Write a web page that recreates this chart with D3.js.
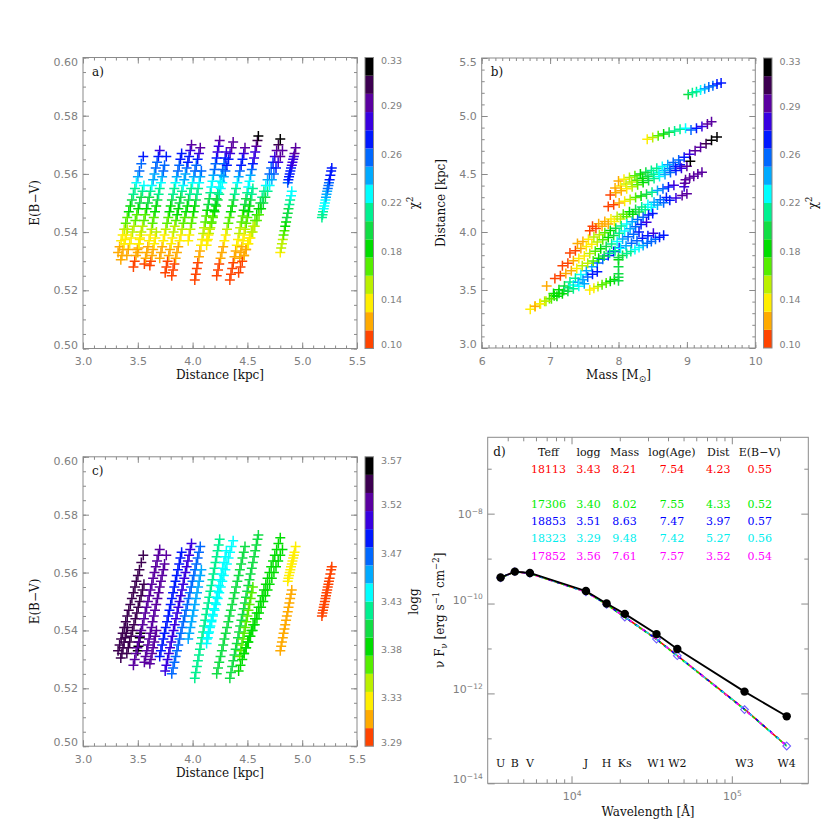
<!DOCTYPE html>
<html>
<head>
<meta charset="utf-8">
<script src="https://cdn.jsdelivr.net/npm/d3@7"></script>
<style>
  body { margin: 0; background: #fff; }
  text { font-family: 'DejaVu Serif', serif; fill: #111; }
  .axis text { font-family: 'DejaVu Sans', sans-serif; font-size: 11px; fill: #808080; }
  .axis line { stroke: #8a8a8a; }
  .cbar-label { font-family: 'DejaVu Sans', sans-serif; font-size: 9.5px; fill: #808080; }
  .title { font-size: 12px; }
  .tab { font-size: 11px; }
</style>
</head>
<body>
<svg width="830" height="830"></svg>
<script>
'use strict';

///////////////////////////// data /////////////////////////////
// colour table of the three colour bars, bottom -> top
var barColors = ['#ff4400', '#ffaa00', '#ffee00', '#bbf000', '#55ee00', '#00dd00', '#11dd44', '#00f090',
                 '#00ffff', '#00aaff', '#0068ff', '#0018ff', '#3800e0', '#5a00a0', '#3c0050', '#000000'];
var chiDomain = [0.10, 0.33];
var chiTickLabels = ['0.10', '0.14', '0.18', '0.22', '0.26', '0.29', '0.33'];
var loggDomain = [3.29, 3.57];
var loggTickLabels = ['3.29', '3.33', '3.38', '3.43', '3.47', '3.52', '3.57'];

var distTicks = [3.0, 3.5, 4.0, 4.5, 5.0, 5.5];
var ebvTicks = [0.50, 0.52, 0.54, 0.56, 0.58, 0.60];
var massTicks = [6, 7, 8, 9, 10];

// panels a) and c): one entry per model track, points are [distance kpc, E(B-V), chi2]
var ebvTracks = [
  {logg: 3.55, pts: [[3.320,0.533,0.122],[3.334,0.535,0.128],[3.348,0.537,0.135],[3.362,0.539,0.142],[3.376,0.541,0.150],[3.390,0.543,0.158],[3.404,0.545,0.167],[3.418,0.547,0.176],[3.432,0.549,0.185],[3.446,0.551,0.195],[3.460,0.553,0.205],[3.474,0.555,0.215],[3.487,0.557,0.225],[3.501,0.559,0.235],[3.515,0.561,0.245],[3.532,0.5635,0.255],[3.550,0.566,0.265]]},
  {logg: 3.54, pts: [[3.400,0.532,0.119],[3.413,0.534,0.125],[3.426,0.536,0.131],[3.439,0.538,0.138],[3.452,0.540,0.146],[3.465,0.542,0.154],[3.478,0.544,0.163],[3.491,0.546,0.171],[3.504,0.548,0.180],[3.517,0.550,0.190],[3.530,0.552,0.200],[3.543,0.554,0.210],[3.556,0.556,0.220]]},
  {logg: 3.55, pts: [[3.345,0.5305,0.116],[3.355,0.532,0.120],[3.365,0.534,0.125],[3.375,0.536,0.131],[3.385,0.5375,0.137],[3.395,0.539,0.143],[3.405,0.541,0.150]]},
  {logg: 3.56, pts: [[3.500,0.533,0.122],[3.506,0.5345,0.126],[3.512,0.536,0.131],[3.518,0.5375,0.136],[3.524,0.539,0.142]]},
  {logg: 3.53, pts: [[3.460,0.528,0.109],[3.472,0.530,0.114],[3.484,0.532,0.119],[3.496,0.534,0.125],[3.508,0.536,0.131],[3.520,0.538,0.138],[3.532,0.540,0.146],[3.544,0.542,0.154],[3.556,0.544,0.163],[3.568,0.546,0.171],[3.580,0.548,0.180],[3.592,0.550,0.190],[3.604,0.552,0.200],[3.616,0.554,0.210],[3.628,0.556,0.220],[3.640,0.558,0.230],[3.652,0.560,0.240],[3.664,0.562,0.249],[3.676,0.564,0.258],[3.688,0.566,0.268],[3.700,0.568,0.277]]},
  {logg: 3.52, pts: [[3.560,0.529,0.112],[3.571,0.531,0.117],[3.582,0.533,0.122],[3.592,0.535,0.128],[3.603,0.537,0.135],[3.614,0.539,0.142],[3.625,0.541,0.150],[3.635,0.543,0.158],[3.646,0.545,0.167],[3.657,0.547,0.176],[3.668,0.549,0.185],[3.679,0.551,0.195],[3.690,0.553,0.205],[3.700,0.555,0.215],[3.711,0.557,0.225],[3.722,0.559,0.235],[3.733,0.561,0.245],[3.744,0.563,0.254],[3.760,0.566,0.267]]},
  {logg: 3.52, pts: [[3.610,0.5285,0.110],[3.620,0.530,0.114],[3.630,0.532,0.119],[3.640,0.534,0.125],[3.650,0.536,0.131],[3.660,0.538,0.138],[3.670,0.540,0.146]]},
  {logg: 3.49, pts: [[3.700,0.531,0.117],[3.711,0.533,0.122],[3.722,0.535,0.128],[3.733,0.537,0.135],[3.744,0.539,0.142],[3.755,0.541,0.150],[3.767,0.543,0.158],[3.778,0.545,0.167],[3.789,0.547,0.176],[3.800,0.549,0.185],[3.811,0.551,0.195],[3.822,0.553,0.205],[3.833,0.555,0.215],[3.844,0.557,0.225],[3.855,0.559,0.235],[3.866,0.561,0.245],[3.878,0.563,0.254],[3.889,0.565,0.263],[3.900,0.567,0.272]]},
  {logg: 3.51, pts: [[3.750,0.526,0.105],[3.761,0.528,0.109],[3.772,0.530,0.114],[3.783,0.532,0.119],[3.794,0.534,0.125],[3.805,0.536,0.131],[3.816,0.538,0.138],[3.826,0.540,0.146],[3.837,0.542,0.154],[3.848,0.544,0.163],[3.859,0.546,0.172],[3.870,0.548,0.181],[3.881,0.550,0.190],[3.892,0.552,0.200],[3.903,0.554,0.210],[3.914,0.556,0.220],[3.924,0.558,0.230],[3.935,0.560,0.240],[3.946,0.562,0.250],[3.957,0.564,0.260],[3.968,0.566,0.270],[3.979,0.568,0.280],[3.990,0.570,0.290]]},
  {logg: 3.47, pts: [[3.810,0.525,0.103],[3.822,0.527,0.107],[3.834,0.529,0.112],[3.845,0.531,0.117],[3.857,0.533,0.122],[3.869,0.535,0.128],[3.881,0.537,0.135],[3.893,0.539,0.142],[3.904,0.541,0.150],[3.916,0.543,0.158],[3.928,0.545,0.167],[3.940,0.547,0.176],[3.952,0.549,0.185],[3.963,0.551,0.195],[3.975,0.553,0.205],[3.987,0.555,0.215],[3.999,0.557,0.225],[4.011,0.559,0.235],[4.022,0.561,0.245],[4.034,0.563,0.255],[4.046,0.565,0.265],[4.058,0.567,0.276],[4.070,0.569,0.288]]},
  {logg: 3.45, pts: [[3.960,0.537,0.135],[3.970,0.539,0.142],[3.980,0.541,0.150],[3.990,0.543,0.158],[4.000,0.545,0.167],[4.010,0.547,0.176],[4.020,0.549,0.185],[4.030,0.551,0.195],[4.040,0.553,0.205],[4.050,0.555,0.215],[4.060,0.557,0.225],[4.070,0.559,0.235],[4.080,0.561,0.245]]},
  {logg: 3.42, pts: [[4.020,0.5235,0.101],[4.029,0.5255,0.104],[4.039,0.5275,0.108],[4.048,0.5295,0.113],[4.058,0.5315,0.118],[4.067,0.5335,0.124],[4.077,0.5355,0.130],[4.086,0.5375,0.137],[4.096,0.5395,0.144],[4.105,0.5415,0.152],[4.115,0.5435,0.160],[4.124,0.5455,0.169],[4.133,0.5475,0.178],[4.143,0.5495,0.188],[4.152,0.5515,0.198],[4.162,0.5535,0.208],[4.171,0.5555,0.218],[4.181,0.5575,0.228],[4.190,0.5595,0.238],[4.200,0.5615,0.247],[4.209,0.5635,0.256],[4.219,0.5655,0.265],[4.228,0.5675,0.275],[4.238,0.5695,0.285],[4.247,0.5715,0.295]]},
  {logg: 3.435, pts: [[4.128,0.5355,0.130],[4.139,0.5375,0.137],[4.150,0.5395,0.144],[4.162,0.5415,0.152],[4.173,0.5435,0.160],[4.184,0.5455,0.169],[4.196,0.5475,0.178],[4.207,0.5495,0.188],[4.218,0.5515,0.198],[4.229,0.5535,0.208],[4.240,0.5555,0.218],[4.252,0.5575,0.228],[4.263,0.5595,0.238],[4.274,0.5615,0.248],[4.286,0.5635,0.258],[4.297,0.5655,0.268],[4.308,0.5675,0.278]]},
  {logg: 3.44, pts: [[4.130,0.537,0.135],[4.144,0.539,0.142],[4.158,0.541,0.150],[4.172,0.543,0.158],[4.186,0.545,0.167],[4.201,0.547,0.176],[4.215,0.549,0.185],[4.229,0.551,0.195],[4.243,0.553,0.205],[4.257,0.555,0.216],[4.271,0.557,0.228],[4.285,0.559,0.239],[4.299,0.561,0.250],[4.313,0.563,0.260],[4.328,0.565,0.270],[4.342,0.567,0.280],[4.356,0.569,0.290],[4.370,0.571,0.298]]},
  {logg: 3.41, pts: [[4.220,0.525,0.103],[4.232,0.527,0.107],[4.243,0.529,0.112],[4.255,0.531,0.117],[4.267,0.533,0.122],[4.279,0.535,0.128],[4.290,0.537,0.135],[4.302,0.539,0.142],[4.314,0.541,0.150],[4.326,0.543,0.158],[4.337,0.545,0.167],[4.349,0.547,0.176],[4.361,0.549,0.185],[4.373,0.551,0.195],[4.384,0.553,0.205],[4.396,0.555,0.215],[4.408,0.557,0.225],[4.420,0.559,0.236],[4.431,0.561,0.248],[4.443,0.563,0.260],[4.455,0.565,0.272],[4.467,0.567,0.284],[4.478,0.569,0.295]]},
  {logg: 3.40, pts: [[4.340,0.5235,0.101],[4.350,0.5255,0.104],[4.361,0.5275,0.108],[4.371,0.5295,0.113],[4.382,0.5315,0.118],[4.393,0.5335,0.124],[4.403,0.5355,0.130],[4.414,0.5375,0.137],[4.424,0.5395,0.144],[4.434,0.5415,0.152],[4.445,0.5435,0.160],[4.456,0.5455,0.169],[4.466,0.5475,0.178],[4.477,0.5495,0.188],[4.487,0.5515,0.198],[4.498,0.5535,0.208],[4.508,0.5555,0.218],[4.519,0.5575,0.229],[4.529,0.5595,0.240],[4.540,0.5615,0.251],[4.550,0.5635,0.262],[4.561,0.5655,0.273],[4.571,0.5675,0.285],[4.582,0.5695,0.295],[4.592,0.5715,0.305],[4.600,0.573,0.318]]},
  {logg: 3.37, pts: [[4.430,0.531,0.117],[4.440,0.533,0.122],[4.450,0.535,0.128],[4.460,0.537,0.135],[4.470,0.539,0.142],[4.480,0.541,0.150],[4.490,0.543,0.158],[4.500,0.545,0.167],[4.510,0.547,0.176],[4.520,0.549,0.185],[4.530,0.551,0.195],[4.540,0.553,0.205],[4.550,0.555,0.215]]},
  {logg: 3.38, pts: [[4.420,0.526,0.105],[4.437,0.528,0.109],[4.453,0.530,0.114],[4.470,0.532,0.119],[4.486,0.534,0.125],[4.503,0.536,0.131],[4.519,0.538,0.138],[4.536,0.540,0.146],[4.552,0.542,0.154],[4.569,0.544,0.163],[4.585,0.546,0.172],[4.602,0.548,0.181],[4.618,0.550,0.190],[4.635,0.552,0.201],[4.651,0.554,0.212],[4.668,0.556,0.223],[4.684,0.558,0.235],[4.701,0.560,0.246],[4.717,0.562,0.258],[4.734,0.564,0.270],[4.750,0.566,0.282],[4.767,0.568,0.293],[4.783,0.570,0.305],[4.800,0.572,0.320]]},
  {logg: 3.39, pts: [[4.470,0.532,0.119],[4.489,0.534,0.125],[4.509,0.536,0.131],[4.528,0.538,0.138],[4.548,0.540,0.146],[4.567,0.542,0.154],[4.587,0.544,0.163],[4.606,0.546,0.171],[4.625,0.548,0.180],[4.645,0.550,0.190],[4.664,0.552,0.200],[4.684,0.554,0.211],[4.703,0.556,0.222],[4.723,0.558,0.235],[4.742,0.560,0.248],[4.761,0.562,0.261],[4.781,0.564,0.275],[4.800,0.566,0.288],[4.820,0.568,0.300]]},
  {logg: 3.33, pts: [[4.868,0.557,0.258],[4.874,0.558,0.260],[4.880,0.559,0.262],[4.886,0.560,0.265],[4.892,0.561,0.268],[4.898,0.562,0.272],[4.905,0.563,0.275],[4.911,0.564,0.278],[4.918,0.565,0.282],[4.924,0.566,0.286],[4.930,0.567,0.290],[4.940,0.569,0.296]]},
  {logg: 3.31, pts: [[4.800,0.533,0.138],[4.808,0.5345,0.144],[4.815,0.536,0.150],[4.823,0.5375,0.157],[4.830,0.539,0.163],[4.838,0.5405,0.169],[4.845,0.542,0.175],[4.853,0.5435,0.182],[4.860,0.545,0.188],[4.868,0.5465,0.194],[4.875,0.548,0.200],[4.883,0.5495,0.207],[4.890,0.551,0.213],[4.898,0.5525,0.219],[4.905,0.554,0.225]]},
  {logg: 3.29, pts: [[5.180,0.545,0.205],[5.185,0.546,0.208],[5.190,0.547,0.212],[5.196,0.548,0.216],[5.201,0.549,0.220],[5.207,0.550,0.223],[5.212,0.551,0.226],[5.217,0.552,0.230],[5.222,0.553,0.235],[5.228,0.554,0.240],[5.233,0.555,0.245],[5.239,0.556,0.250],[5.244,0.557,0.255],[5.250,0.558,0.260],[5.257,0.5595,0.265],[5.264,0.561,0.269],[5.270,0.562,0.272]]}
];

// panel b): model tracks, points are [mass Msun, distance kpc, chi2]
var massTracks = [
  [[9.02,5.185,0.195],[9.08,5.200,0.205],[9.14,5.210,0.215],[9.20,5.225,0.225],[9.26,5.235,0.235],[9.32,5.250,0.245],[9.38,5.260,0.255],[9.44,5.275,0.265],[9.50,5.285,0.272]],
  [[8.42,4.800,0.135],[8.50,4.815,0.145],[8.58,4.830,0.160],[8.66,4.845,0.175],[8.74,4.860,0.190],[8.82,4.870,0.205],[8.90,4.885,0.215],[8.98,4.895,0.225],[9.06,4.880,0.250],[9.14,4.895,0.262],[9.22,4.910,0.275],[9.30,4.930,0.290],[9.36,4.950,0.300]],
  [[7.95,4.380,0.125],[8.03,4.397,0.135],[8.11,4.414,0.145],[8.19,4.430,0.157],[8.27,4.447,0.170],[8.35,4.464,0.183],[8.43,4.481,0.196],[8.51,4.498,0.210],[8.59,4.514,0.224],[8.67,4.531,0.238],[8.75,4.548,0.250],[8.83,4.565,0.260],[8.90,4.580,0.268]],
  [[8.00,4.440,0.115],[8.08,4.455,0.130],[8.16,4.470,0.145],[8.24,4.485,0.160],[8.32,4.500,0.175],[8.40,4.515,0.190],[8.48,4.530,0.205],[8.56,4.550,0.215],[8.64,4.565,0.225],[8.72,4.580,0.235],[8.80,4.600,0.245],[8.88,4.620,0.255],[8.96,4.645,0.265],[9.04,4.670,0.280],[9.12,4.700,0.290],[9.20,4.730,0.300],[9.28,4.760,0.310],[9.36,4.790,0.320],[9.44,4.820,0.325]],
  [[7.88,4.320,0.105],[7.96,4.338,0.115],[8.04,4.355,0.125],[8.12,4.373,0.135],[8.20,4.390,0.150],[8.28,4.408,0.165],[8.36,4.426,0.180],[8.44,4.443,0.195],[8.52,4.461,0.210],[8.60,4.478,0.225],[8.68,4.496,0.240],[8.76,4.514,0.255],[8.84,4.531,0.270],[8.92,4.549,0.280],[9.00,4.566,0.290],[9.05,4.610,0.320]],
  [[7.85,4.220,0.100],[7.93,4.235,0.110],[8.01,4.251,0.120],[8.09,4.266,0.130],[8.17,4.281,0.145],[8.25,4.297,0.160],[8.33,4.311,0.175],[8.41,4.326,0.190],[8.49,4.342,0.210],[8.57,4.357,0.230],[8.65,4.372,0.250],[8.73,4.387,0.270],[8.81,4.402,0.285]],
  [[8.96,4.390,0.285],[8.97,4.420,0.290],[8.98,4.450,0.290],[9.04,4.465,0.295],[9.10,4.480,0.295],[9.16,4.500,0.300],[9.22,4.515,0.300]],
  [[7.62,4.050,0.110],[7.71,4.071,0.118],[7.80,4.091,0.128],[7.89,4.112,0.138],[7.98,4.133,0.150],[8.07,4.154,0.162],[8.16,4.174,0.175],[8.25,4.195,0.188],[8.34,4.216,0.202],[8.43,4.236,0.216],[8.52,4.257,0.232],[8.61,4.278,0.248],[8.70,4.298,0.262]],
  [[7.58,4.010,0.100],[7.67,4.030,0.108],[7.76,4.050,0.118],[7.85,4.070,0.128],[7.94,4.091,0.140],[8.03,4.111,0.152],[8.12,4.132,0.165],[8.21,4.152,0.178],[8.30,4.172,0.190],[8.39,4.192,0.205],[8.48,4.213,0.220],[8.57,4.233,0.235],[8.66,4.253,0.250],[8.75,4.273,0.265],[8.84,4.294,0.278],[8.93,4.314,0.290],[9.00,4.330,0.295]],
  [[7.40,3.900,0.120],[7.48,3.919,0.128],[7.56,3.938,0.137],[7.64,3.957,0.146],[7.72,3.976,0.156],[7.80,3.994,0.167],[7.88,4.013,0.178],[7.96,4.032,0.190],[8.04,4.051,0.203],[8.12,4.070,0.216],[8.20,4.089,0.230],[8.28,4.108,0.244],[8.36,4.127,0.256],[8.44,4.146,0.266],[8.50,4.160,0.272]],
  [[7.29,3.820,0.100],[7.37,3.839,0.110],[7.45,3.858,0.120],[7.53,3.876,0.130],[7.61,3.895,0.140],[7.69,3.914,0.152],[7.77,3.933,0.165],[7.85,3.952,0.178],[7.93,3.970,0.192],[8.01,3.989,0.207],[8.09,4.008,0.222],[8.17,4.027,0.238],[8.25,4.046,0.252],[8.33,4.064,0.267],[8.41,4.083,0.280]],
  [[7.18,3.710,0.105],[7.26,3.731,0.112],[7.34,3.752,0.120],[7.42,3.772,0.130],[7.50,3.793,0.140],[7.58,3.814,0.152],[7.66,3.835,0.165],[7.74,3.856,0.178],[7.82,3.876,0.192],[7.90,3.897,0.206],[7.98,3.918,0.220],[8.06,3.939,0.234],[8.14,3.960,0.246],[8.22,3.980,0.256],[8.30,4.001,0.264]],
  [[7.05,3.470,0.180],[7.13,3.503,0.186],[7.21,3.535,0.194],[7.29,3.568,0.202],[7.37,3.601,0.210],[7.45,3.634,0.220],[7.53,3.667,0.230],[7.61,3.700,0.240],[7.69,3.732,0.248],[7.77,3.765,0.254],[7.85,3.798,0.260],[7.93,3.831,0.265],[8.01,3.864,0.270]],
  [[7.07,3.600,0.100],[7.15,3.622,0.108],[7.23,3.643,0.116],[7.31,3.665,0.125],[7.39,3.686,0.134],[7.47,3.708,0.144],[7.55,3.730,0.155],[7.63,3.751,0.166],[7.71,3.773,0.178],[7.79,3.794,0.190],[7.87,3.816,0.202],[7.95,3.838,0.214],[8.03,3.859,0.226],[8.11,3.881,0.238],[8.19,3.902,0.248],[8.27,3.924,0.256],[8.35,3.946,0.264],[8.43,3.967,0.270],[8.51,3.989,0.276]],
  [[6.71,3.335,0.135],[6.78,3.358,0.140],[6.85,3.381,0.148],[6.92,3.404,0.156],[6.99,3.427,0.165],[7.06,3.450,0.175],[7.13,3.473,0.185],[7.20,3.496,0.196],[7.27,3.520,0.207],[7.34,3.543,0.218],[7.41,3.566,0.230],[7.48,3.589,0.240],[7.55,3.612,0.250],[7.62,3.635,0.260],[7.69,3.658,0.268]],
  [[6.78,3.360,0.125],[6.86,3.382,0.135],[6.94,3.403,0.148],[7.02,3.425,0.160],[7.10,3.446,0.172],[7.18,3.468,0.185],[7.26,3.490,0.198],[7.34,3.511,0.210],[7.42,3.533,0.222],[7.50,3.554,0.235]],
  [[7.58,3.500,0.135],[7.64,3.515,0.142],[7.70,3.530,0.150],[7.76,3.545,0.158],[7.82,3.560,0.166],[7.88,3.575,0.174],[7.94,3.590,0.182],[8.00,3.610,0.190]],
  [[8.00,3.580,0.192],[8.00,3.640,0.190],[8.00,3.700,0.188],[8.00,3.760,0.186]],
  [[8.00,3.780,0.190],[8.06,3.797,0.197],[8.12,3.815,0.205],[8.18,3.832,0.212],[8.24,3.850,0.220],[8.30,3.867,0.228],[8.36,3.884,0.236],[8.42,3.902,0.244],[8.48,3.919,0.252],[8.54,3.937,0.258],[8.60,3.954,0.264],[8.66,3.971,0.270]],
  [[6.95,3.535,0.115]]
];

// panel d): photometry and best-fitting models
var bandNames = ['U', 'B', 'V', 'J', 'H', 'Ks', 'W1', 'W2', 'W3', 'W4'];
var bandWave = [3610, 4430, 5500, 12300, 16550, 21500, 33900, 45700, 120000, 220000]; // Angstrom
var obsLogFlux = [-9.42, -9.29, -9.32, -9.72, -10.00, -10.23, -10.68, -11.01, -11.96, -12.51];
var modelLogFlux = [
  [-9.43, -9.29, -9.33, -9.74, -10.02, -10.30, -10.79, -11.16, -12.35, -13.17],
  [-9.43, -9.29, -9.33, -9.74, -10.02, -10.31, -10.80, -11.17, -12.36, -13.17],
  [-9.42, -9.29, -9.33, -9.74, -10.02, -10.30, -10.79, -11.16, -12.35, -13.16],
  [-9.43, -9.30, -9.33, -9.74, -10.02, -10.30, -10.79, -11.16, -12.35, -13.17],
  [-9.43, -9.29, -9.33, -9.74, -10.02, -10.30, -10.79, -11.16, -12.36, -13.17]
];
var modelColors = ['#ff0000', '#00ee00', '#0000ff', '#00eeee', '#ff00ff'];
var fitTeff = [18113, 17306, 18853, 18323, 17852];
var fitLogg = [3.43, 3.40, 3.51, 3.29, 3.56];
var fitMass = [8.21, 8.02, 8.63, 9.48, 7.61];
var fitLogAge = [7.54, 7.55, 7.47, 7.42, 7.57];
var fitDist = [4.23, 4.33, 3.97, 5.27, 3.52];
var fitEbv = [0.55, 0.52, 0.57, 0.56, 0.54];
var tableHeads = ['Teff', 'logg', 'Mass', 'log(Age)', 'Dist', 'E(B\u2212V)'];

///////////////////////////// helpers /////////////////////////////
var svg = d3.select('svg');
var chiColor = d3.scaleQuantize().domain(chiDomain).range(barColors);
var loggColor = d3.scaleQuantize().domain(loggDomain).range(barColors);

function near(a, b) { return Math.abs(a - b) < 1e-9 * Math.max(1, Math.abs(b)); }

function tickAxis(g, axis, tr, vals, size, fmt, pad) {
    var a = g.append('g').attr('class', 'axis').attr('transform', tr)
        .call(axis.tickValues(vals).tickSizeInner(-size).tickSizeOuter(0).tickPadding(pad || 0)
            .tickFormat(fmt || function() { return ''; }));
    a.select('.domain').remove();
    a.attr('font-size', null).attr('font-family', null);
    return a;
}

// IDL style box: ticks inward on all four sides, labels bottom + left
function boxFrame(g, x, y, xMaj, xMin, yMaj, yMin, xFmt, yFmt, big, small) {
    var w = x.range()[1], h = y.range()[0];
    var bottom = 'translate(0,' + h + ')', right = 'translate(' + w + ',0)';
    var xl = tickAxis(g, d3.axisBottom(x), bottom, xMaj, big, xFmt, 9);
    tickAxis(g, d3.axisBottom(x), bottom, xMin, small);
    tickAxis(g, d3.axisTop(x), null, xMaj, big);
    tickAxis(g, d3.axisTop(x), null, xMin, small);
    var yl = tickAxis(g, d3.axisLeft(y), null, yMaj, big, yFmt, 5);
    tickAxis(g, d3.axisLeft(y), null, yMin, small);
    tickAxis(g, d3.axisRight(y), right, yMaj, big);
    tickAxis(g, d3.axisRight(y), right, yMin, small);
    g.append('rect').attr('width', w).attr('height', h)
        .attr('fill', 'none').attr('stroke', '#8a8a8a').attr('stroke-width', 1);
    // end labels sit a little inside the box
    var dom = y.domain();
    yl.selectAll('.tick text').attr('transform', function(d) {
        if (near(d, dom[0])) { return 'translate(0,-4)'; }
        if (near(d, dom[1])) { return 'translate(0,4)'; }
        return null;
    });
    return {x: xl, y: yl};
}

function plusMarks(g, data, x, y, color) {
    g.append('g').selectAll('path').data(data).enter().append('path')
        .attr('d', function(d) {
            var px = x(d[0]), py = y(d[1]);
            return 'M' + (px - 5) + ',' + py + 'h10M' + px + ',' + (py - 5) + 'v10';
        })
        .attr('fill', 'none')
        .attr('stroke-width', 1.5)
        .attr('stroke', color);
}

function colorBar(x0, y0, h, labels, title) {
    var g = svg.append('g').attr('transform', 'translate(' + x0 + ',' + y0 + ')');
    var yb = d3.scaleLinear().domain([0, barColors.length]).range([h, 0]);
    g.selectAll('rect.seg').data(barColors).enter().append('rect')
        .attr('class', 'seg')
        .attr('width', 8.5)
        .attr('y', function(d, i) { return yb(i + 1); })
        .attr('height', function(d, i) { return yb(i) - yb(i + 1); })
        .attr('fill', function(d) { return d; });
    g.append('rect').attr('width', 8.5).attr('height', h)
        .attr('fill', 'none').attr('stroke', '#8a8a8a');
    var yt = d3.scalePoint().domain(labels).range([h, 0]);
    g.selectAll('text.cbar-label').data(labels).enter().append('text')
        .attr('class', 'cbar-label')
        .attr('x', 16)
        .attr('y', function(d, i) {
            var nudge = i === 0 ? -3.5 : (i === labels.length - 1 ? 3.5 : 0);
            return yt(d) + nudge;
        })
        .attr('dy', '0.35em')
        .text(function(d) { return d; });
    var t = g.append('text').attr('class', 'title')
        .attr('text-anchor', 'middle')
        .attr('transform', 'translate(53,' + (h / 2) + ') rotate(-90)');
    title(t);
}

function chiTitle(t) {
    t.append('tspan').text('\u03c7');
    t.append('tspan').attr('dy', -5).attr('font-size', '8.5px').text('2');
}

function rotLabel(x0, y0, txt) {
    svg.append('text').attr('class', 'title').attr('text-anchor', 'middle')
        .attr('transform', 'translate(' + x0 + ',' + y0 + ') rotate(-90)')
        .text(txt);
}

function panelTag(g, txt, dx, dy) {
    g.append('text').attr('x', dx).attr('y', dy).attr('font-size', '12px').text(txt);
}

var fmt1 = d3.format('.1f'), fmt2 = d3.format('.2f');
var distMinor = d3.range(3.0, 5.501, 0.1);
var ebvMinor = d3.range(0.50, 0.6001, 0.005);

function ebvPanel(left, top, h, colorOf, tag) {
    var g = svg.append('g').attr('transform', 'translate(' + left + ',' + top + ')');
    var x = d3.scaleLinear().domain([3.0, 5.5]).range([0, 274]);
    var y = d3.scaleLinear().domain([0.50, 0.60]).range([h, 0]);
    ebvTracks.forEach(function(tr) {
        plusMarks(g, tr.pts, x, y, function(d) { return colorOf(tr, d); });
    });
    boxFrame(g, x, y, distTicks, distMinor, ebvTicks, ebvMinor, fmt1, fmt2, 6, 3);
    panelTag(g, tag, 9, 18);
    g.append('text').attr('class', 'title').attr('text-anchor', 'middle')
        .attr('x', 137).attr('y', h + 30.5).text('Distance [kpc]');
    rotLabel(left - 44, top + h / 2, 'E(B\u2212V)');
    return g;
}

///////////////////////////// panel a /////////////////////////////
ebvPanel(83, 57.5, 291, function(tr, d) { return chiColor(d[2]); }, 'a)');
colorBar(365, 57.5, 291, chiTickLabels, chiTitle);

///////////////////////////// panel c /////////////////////////////
ebvPanel(83, 456.8, 289.4, function(tr) { return loggColor(tr.logg); }, 'c)');
colorBar(365, 456.8, 289.4, loggTickLabels, function(t) { t.text('logg'); });

///////////////////////////// panel b /////////////////////////////
(function() {
    var g = svg.append('g').attr('transform', 'translate(481.7,58)');
    var x = d3.scaleLinear().domain([6, 10]).range([0, 273.6]);
    var y = d3.scaleLinear().domain([3.0, 5.5]).range([290, 0]);
    massTracks.forEach(function(tr) {
        plusMarks(g, tr, x, y, function(d) { return chiColor(d[2]); });
    });
    boxFrame(g, x, y, massTicks, d3.range(6, 10.001, 0.1), distTicks, distMinor,
        d3.format('d'), fmt1, 6, 3);
    panelTag(g, 'b)', 9, 18);
    var xl = g.append('text').attr('class', 'title').attr('text-anchor', 'middle')
        .attr('x', 136.8).attr('y', 321);
    xl.append('tspan').text('Mass [M');
    xl.append('tspan').attr('dy', 3).attr('font-size', '9px')
        .attr('font-family', 'DejaVu Sans').text('\u2299');
    xl.append('tspan').attr('dy', -3).text(']');
    rotLabel(445, 203, 'Distance [kpc]');
    colorBar(763.5, 58, 290, chiTickLabels, chiTitle);
})();

///////////////////////////// panel d /////////////////////////////
(function() {
    var left = 487.7, top = 437.3, w = 320.6, h = 346;
    var g = svg.append('g').attr('transform', 'translate(' + left + ',' + top + ')');
    var x = d3.scaleLog().domain([3000, 300000]).range([0, w]);
    var y = d3.scaleLog().domain([1e-14, 5e-7]).range([h, 0]);

    var xMin = [4000, 5000, 6000, 7000, 8000, 9000, 20000, 30000, 40000, 50000, 60000,
                70000, 80000, 90000, 200000];
    var none = function() { return ''; };
    var ax = boxFrame(g, x, y, [1e4, 1e5], xMin, [1e-14, 1e-12, 1e-10, 1e-8],
        [1e-13, 1e-11, 1e-9, 1e-7], none, none, 7, 4);
    // power-of-ten labels
    function powLabel(sel) {
        sel.each(function(d) {
            var t = d3.select(this).select('text');
            var e = Math.round(Math.log10(d));
            t.text('10');
            t.append('tspan').attr('dy', '-0.55em').attr('font-size', '7.5px')
                .text(e < 0 ? '\u2212' + (-e) : String(e));
        });
    }
    ax.y.selectAll('.tick').call(powLabel);
    ax.x.selectAll('.tick').call(powLabel);

    var line = d3.line()
        .x(function(d, i) { return x(bandWave[i]); })
        .y(function(d) { return y(Math.pow(10, d)); });

    modelLogFlux.forEach(function(m, k) {
        g.append('path').attr('d', line(m)).attr('fill', 'none')
            .attr('stroke', modelColors[k]).attr('stroke-width', 1.6)
            .attr('stroke-dasharray', k === 0 ? null : '3,' + (3 * k))
            .attr('stroke-dashoffset', k * 2);
    });
    g.append('g').selectAll('path').data(modelLogFlux[4]).enter().append('path')
        .attr('d', d3.symbol().type(d3.symbolDiamond2).size(38))
        .attr('transform', function(d, i) {
            return 'translate(' + x(bandWave[i]) + ',' + y(Math.pow(10, d)) + ')';
        })
        .attr('fill', 'none').attr('stroke', '#6f5cff').attr('stroke-width', 1.1);

    g.append('path').attr('d', line(obsLogFlux)).attr('fill', 'none')
        .attr('stroke', '#000').attr('stroke-width', 1.8);
    g.append('g').selectAll('circle').data(obsLogFlux).enter().append('circle')
        .attr('cx', function(d, i) { return x(bandWave[i]); })
        .attr('cy', function(d) { return y(Math.pow(10, d)); })
        .attr('r', 4.2).attr('fill', '#000');

    g.append('g').selectAll('text').data(bandNames).enter().append('text')
        .attr('class', 'tab').attr('text-anchor', 'middle')
        .attr('x', function(d, i) { return x(bandWave[i]); })
        .attr('y', 329.5)
        .text(function(d) { return d; });

    panelTag(g, 'd)', 5.5, 18.5);

    // table of fitted parameters
    var colX = [548.5, 588.5, 624.5, 672, 718.3, 759.7];
    var rowY = [469, 503.6, 520.9, 538.2, 555.5];
    tableHeads.forEach(function(hd, j) {
        svg.append('text').attr('class', 'tab').attr('text-anchor', 'middle')
            .attr('x', colX[j]).attr('y', 455.8).text(hd);
    });
    var cols = [fitTeff.map(String), fitLogg.map(fmt2), fitMass.map(fmt2),
                fitLogAge.map(fmt2), fitDist.map(fmt2), fitEbv.map(fmt2)];
    cols.forEach(function(vals, j) {
        vals.forEach(function(v, k) {
            svg.append('text').attr('class', 'tab').attr('text-anchor', 'middle')
                .attr('x', colX[j]).attr('y', rowY[k] + 4)
                .attr('style', 'fill:' + modelColors[k])
                .text(v);
        });
    });

    g.append('text').attr('class', 'title').attr('text-anchor', 'middle')
        .attr('x', w / 2).attr('y', h + 33).text('Wavelength [\u00c5]');
    var t = svg.append('text').attr('class', 'title').attr('text-anchor', 'middle')
        .attr('transform', 'translate(444,' + (top + h / 2) + ') rotate(-90)');
    t.append('tspan').text('\u03bd F');
    t.append('tspan').attr('dy', 3).attr('font-size', '8.5px').text('\u03bd');
    t.append('tspan').attr('dy', -3).text(' [erg s');
    t.append('tspan').attr('dy', -5).attr('font-size', '8.5px').text('\u22121');
    t.append('tspan').attr('dy', 5).text(' cm');
    t.append('tspan').attr('dy', -5).attr('font-size', '8.5px').text('\u22122');
    t.append('tspan').attr('dy', 5).text(']');
})();
</script>
</body>
</html>
